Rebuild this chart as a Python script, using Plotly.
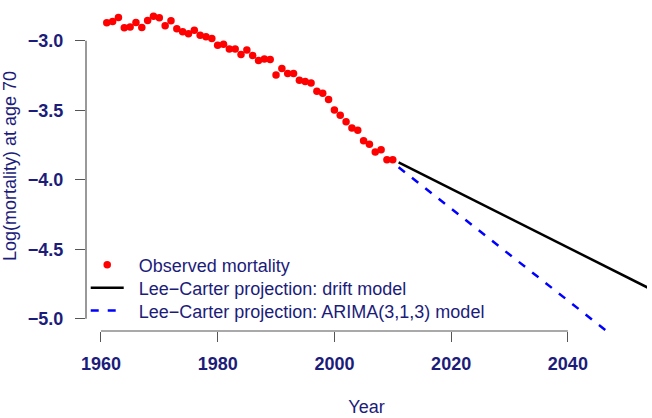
import plotly.graph_objects as go

# Observed log mortality at age 70
obs_years = list(range(1961, 2011))
obs_values = [
    -2.870, -2.860, -2.831, -2.906, -2.901, -2.867, -2.903, -2.853, -2.822, -2.834,
    -2.892, -2.856, -2.913, -2.935, -2.949, -2.923, -2.959, -2.971, -2.983, -3.031,
    -3.024, -3.058, -3.058, -3.098, -3.065, -3.105, -3.141, -3.130, -3.134, -3.245,
    -3.199, -3.235, -3.235, -3.284, -3.293, -3.303, -3.363, -3.377, -3.423, -3.498,
    -3.536, -3.582, -3.628, -3.644, -3.719, -3.745, -3.801, -3.784, -3.856, -3.856,
]

# Lee-Carter projection: drift model
drift_years = [2011, 2060]
drift_values = [-3.875, -4.910]

# Lee-Carter projection: ARIMA(3,1,3) model
arima_years = [2011, 2020, 2030, 2040, 2050]
arima_values = [-3.910, -4.210, -4.540, -4.870, -5.200]

x_ticks = [1960, 1980, 2000, 2020, 2040]
y_ticks = [-5.0, -4.5, -4.0, -3.5, -3.0]

NAVY = "#1c1c7a"
AXIS = "#555555"
FONT = "Liberation Sans, Arial, sans-serif"
PAD = "\u00a0\u00a0"

fig = go.Figure()
fig.add_trace(go.Scatter(
    x=obs_years, y=obs_values, mode="markers",
    marker=dict(color="#ff0000", size=7.5),
    name=PAD + "Observed mortality", cliponaxis=False, legend="legend"))
fig.add_trace(go.Scatter(
    x=drift_years, y=drift_values, mode="lines",
    line=dict(color="black", width=2.5),
    name=PAD + "Lee\u2212Carter projection: drift model", legend="legend2"))
fig.add_trace(go.Scatter(
    x=arima_years, y=arima_values, mode="lines",
    line=dict(color="#0000ff", width=2.5, dash="8px,9px"),
    name=PAD + "Lee\u2212Carter projection: ARIMA(3,1,3) model", legend="legend3"))

# R-style axis lines spanning first to last tick
fig.add_shape(type="line", xref="x", yref="paper", x0=x_ticks[0], x1=x_ticks[-1],
              y0=0, y1=0, line=dict(color=AXIS, width=1.2))
fig.add_shape(type="line", xref="paper", yref="y", x0=0, x1=0,
              y0=y_ticks[0], y1=y_ticks[-1], line=dict(color=AXIS, width=1.2))

def leg(yc):
    return dict(x=-0.0005, y=yc, xanchor="left", yanchor="middle",
                bgcolor="rgba(0,0,0,0)", font=dict(size=18, color=NAVY),
                itemwidth=33)

fig.update_layout(
    width=652, height=418,
    margin=dict(l=86, r=5, t=1, b=87),
    plot_bgcolor="white", paper_bgcolor="white",
    font=dict(family=FONT, color=NAVY, size=18),
    showlegend=True,
    legend=leg(0.200),
    legend2=leg(0.130),
    legend3=leg(0.061),
    xaxis=dict(range=[1957.44, 2053.56], tickvals=x_ticks, ticks="outside",
               ticklen=10, tickcolor=AXIS, tickwidth=1.2, showgrid=False,
               zeroline=False, showline=False, ticklabelstandoff=6,
               tickfont=dict(family=FONT, size=18, color=NAVY, weight="bold"),
               title=dict(text="Year", font=dict(size=18, color=NAVY), standoff=27)),
    yaxis=dict(range=[-5.089, -2.713], tickvals=y_ticks, ticks="outside",
               ticklen=10, tickcolor=AXIS, tickwidth=1.2, showgrid=False,
               zeroline=False, showline=False, tickformat=".1f", ticklabelstandoff=8,
               tickfont=dict(family=FONT, size=18, color=NAVY, weight="bold"),
               title=dict(text="Log(mortality) at age 70", font=dict(size=18, color=NAVY),
                          standoff=7)),
)

fig.write_html("out.html")
